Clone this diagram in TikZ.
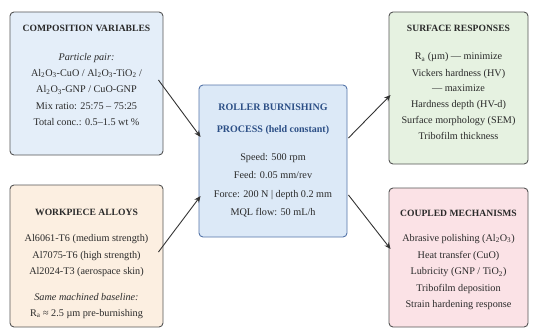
\documentclass[tikz,border=0pt]{standalone}
\usepackage{fontspec}
\setmainfont{Liberation Serif}
\usetikzlibrary{calc,arrows.meta}
\definecolor{compfill}{HTML}{E4EEF9}
\definecolor{workfill}{HTML}{FCEFE1}
\definecolor{procfill}{HTML}{DCE9F7}
\definecolor{procline}{HTML}{5474A8}
\definecolor{proctext}{HTML}{2C4F86}
\definecolor{respfill}{HTML}{E6F2E1}
\definecolor{mechfill}{HTML}{FBE2E6}
\definecolor{boxline}{HTML}{555555}
\definecolor{txt}{HTML}{2A2A2A}
\definecolor{arrcol}{HTML}{333333}
\newcommand{\sub}[1]{\textsubscript{#1}}
\begin{document}
\begin{tikzpicture}[x=1pt,y=-1pt,
  box/.style={draw=boxline, line width=0.9pt, rounded corners=4pt, inner sep=0pt},
  ttl/.style={anchor=mid, inner sep=0pt, text=txt, font=\fontsize{9.6}{12}\selectfont\bfseries},
  ptl/.style={anchor=mid, inner sep=0pt, text=proctext, font=\fontsize{10}{12}\selectfont\bfseries},
  ln/.style={anchor=mid, inner sep=0pt, text=txt, font=\fontsize{10.2}{12}\selectfont},
  lni/.style={ln, font=\fontsize{10.2}{12}\selectfont\itshape},
  arr/.style={draw=arrcol, line width=0.9pt, -{Stealth[length=6.5pt,width=5.5pt]}}]
\useasboundingbox (0,0) rectangle (535,329);
% boxes
\node[box, fill=compfill, minimum width=153pt, minimum height=143pt] (comp) at (86.5,83.5) {};
\node[box, fill=workfill, minimum width=153pt, minimum height=142pt] (work) at (86.5,256) {};
\node[box, fill=procfill, draw=procline, minimum width=148pt, minimum height=152pt] (proc) at (273,161) {};
\node[box, fill=respfill, minimum width=139pt, minimum height=152pt] (resp) at (458.5,88) {};
\node[box, fill=mechfill, minimum width=139pt, minimum height=139pt] (mech) at (458.5,257.5) {};
% composition
\node[ttl] (c0) at (86.5,29) {COMPOSITION VARIABLES};
\node[lni] (c1) at (86.5,58) {Particle pair:};
\node[ln] (c2) at (86.5,74) {Al\sub{2}O\sub{3}-CuO / Al\sub{2}O\sub{3}-TiO\sub{2} /};
\node[ln] (c3) at (86.5,90.5) {Al\sub{2}O\sub{3}-GNP / CuO-GNP};
\node[ln] (c4) at (86.5,107) {Mix ratio: 25:75 – 75:25};
\node[ln] (c5) at (86.5,123) {Total conc.: 0.5–1.5 wt \%};
% workpiece
\node[ttl] (w0) at (86.5,213) {WORKPIECE ALLOYS};
\node[ln] (w1) at (86.5,239) {Al6061-T6 (medium strength)};
\node[ln] (w2) at (86.5,256) {Al7075-T6 (high strength)};
\node[ln] (w3) at (86.5,272.5) {Al2024-T3 (aerospace skin)};
\node[lni] (w4) at (86.5,298) {Same machined baseline:};
\node[ln] (w5) at (86.5,314) {R\sub{a} ≈ 2.5 µm pre-burnishing};
% process
\node[ptl] (p0) at (273,108) {ROLLER BURNISHING};
\node[ptl] (p1) at (273,130) {PROCESS (held constant)};
\node[ln] (p2) at (273,158) {Speed: 500 rpm};
\node[ln] (p3) at (273,176.5) {Feed: 0.05 mm/rev};
\node[ln] (p4) at (273,195) {Force: 200 N | depth 0.2 mm};
\node[ln] (p5) at (273,213) {MQL flow: 50 mL/h};
% responses
\node[ttl] (r0) at (458.5,29) {SURFACE RESPONSES};
\node[ln] (r1) at (458.5,57.5) {R\sub{a} (µm) — minimize};
\node[ln] (r2) at (458.5,74) {Vickers hardness (HV)};
\node[ln] (r3) at (458.5,89.5) {— maximize};
\node[ln] (r4) at (458.5,105) {Hardness depth (HV-d)};
\node[ln] (r5) at (458.5,121) {Surface morphology (SEM)};
\node[ln] (r6) at (458.5,137) {Tribofilm thickness};
% mechanisms
\node[ttl] (m0) at (458.5,214) {COUPLED MECHANISMS};
\node[ln] (m1) at (458.5,239) {Abrasive polishing (Al\sub{2}O\sub{3})};
\node[ln] (m2) at (458.5,256) {Heat transfer (CuO)};
\node[ln] (m3) at (458.5,272.5) {Lubricity (GNP / TiO\sub{2})};
\node[ln] (m4) at (458.5,289) {Tribofilm deposition};
\node[ln] (m5) at (458.5,305.5) {Strain hardening response};
% arrows
\draw[arr] ($(comp.east)+(-5,-3.5)$) -- ($(proc.west)+(2,-24)$);
\draw[arr] ($(work.east)+(-5,-4)$) -- ($(proc.west)+(2,35)$);
\draw[arr] ($(proc.east)+(1,-23)$) -- ($(resp.west)+(2,7)$);
\draw[arr] ($(proc.east)+(1,34)$) -- ($(mech.west)+(2,-8.5)$);
\end{tikzpicture}
\end{document}
